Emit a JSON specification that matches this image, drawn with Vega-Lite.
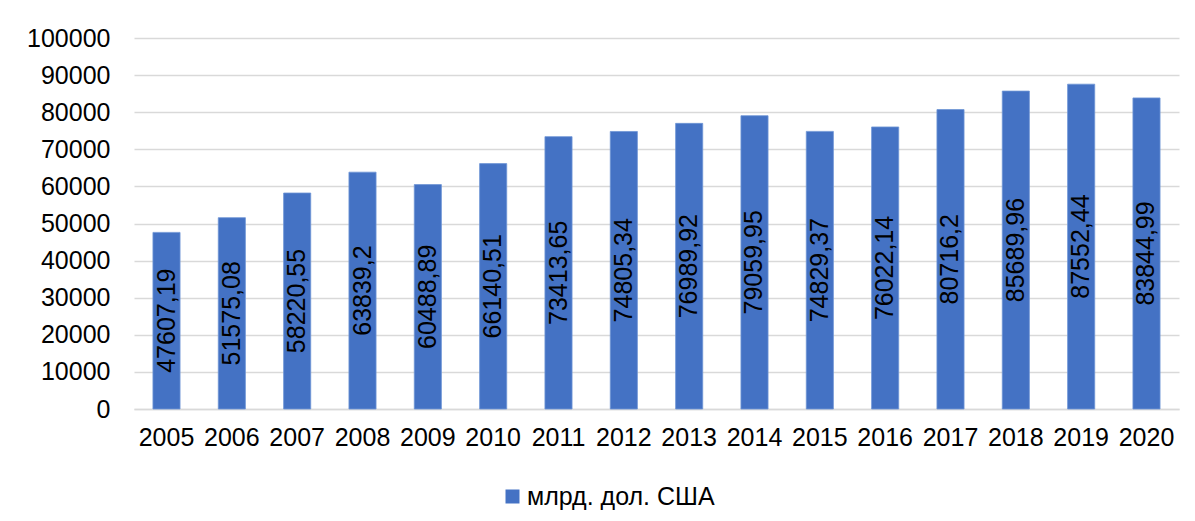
{
  "$schema": "https://vega.github.io/schema/vega-lite/v6.json",
  "width": 1045,
  "height": 371,
  "autosize": {"type": "none"},
  "padding": {"left": 134, "top": 38, "right": 16, "bottom": 112},
  "background": "white",
  "config": {
    "font": "Liberation Sans",
    "view": {"stroke": null}
  },
  "data": {
    "values": [
      {"year": "2005", "value": 47607.19, "label": "47607,19"},
      {"year": "2006", "value": 51575.08, "label": "51575,08"},
      {"year": "2007", "value": 58220.55, "label": "58220,55"},
      {"year": "2008", "value": 63839.2, "label": "63839,2"},
      {"year": "2009", "value": 60488.89, "label": "60488,89"},
      {"year": "2010", "value": 66140.51, "label": "66140,51"},
      {"year": "2011", "value": 73413.65, "label": "73413,65"},
      {"year": "2012", "value": 74805.34, "label": "74805,34"},
      {"year": "2013", "value": 76989.92, "label": "76989,92"},
      {"year": "2014", "value": 79059.95, "label": "79059,95"},
      {"year": "2015", "value": 74829.37, "label": "74829,37"},
      {"year": "2016", "value": 76022.14, "label": "76022,14"},
      {"year": "2017", "value": 80716.2, "label": "80716,2"},
      {"year": "2018", "value": 85689.96, "label": "85689,96"},
      {"year": "2019", "value": 87552.44, "label": "87552,44"},
      {"year": "2020", "value": 83844.99, "label": "83844,99"}
    ]
  },
  "encoding": {
    "x": {
      "field": "year",
      "type": "nominal",
      "sort": null,
      "scale": {"paddingInner": 0.585, "paddingOuter": 0.29},
      "axis": {
        "title": null,
        "labelAngle": 0,
        "labelFontSize": 25,
        "labelColor": "#000000",
        "labelPadding": 16,
        "ticks": false,
        "domainColor": "#d9d9d9",
        "domainWidth": 1.5,
        "grid": false
      }
    }
  },
  "layer": [
    {
      "mark": {"type": "bar", "stroke": "#6f95d6", "strokeWidth": 0.8},
      "encoding": {
        "y": {
          "field": "value",
          "type": "quantitative",
          "scale": {"domain": [0, 100000], "nice": false},
          "axis": {
            "title": null,
            "values": [0, 10000, 20000, 30000, 40000, 50000, 60000, 70000, 80000, 90000, 100000],
            "labelFontSize": 25,
            "labelColor": "#000000",
            "labelPadding": 24,
            "ticks": false,
            "domain": false,
            "gridColor": "#d9d9d9",
            "gridWidth": 1.5,
            "format": "d"
          }
        },
        "color": {
          "datum": "млрд. дол. США",
          "type": "nominal",
          "scale": {"range": ["#4472C4"]},
          "legend": {
            "title": null,
            "orient": "none",
            "legendX": 366,
            "legendY": 446,
            "symbolType": "square",
            "symbolSize": 196,
            "symbolStrokeWidth": 0,
            "labelFontSize": 25,
            "labelColor": "#000000",
            "labelOffset": 2,
            "labelLimit": 0,
            "padding": 0
          }
        }
      }
    },
    {
      "mark": {"type": "text", "angle": -90, "align": "center", "baseline": "middle", "fontSize": 25, "color": "#000000"},
      "encoding": {
        "y": {
          "field": "value",
          "type": "quantitative",
          "scale": {"domain": [0, 200000], "nice": false},
          "axis": null
        },
        "text": {"field": "label"}
      }
    }
  ],
  "resolve": {"scale": {"y": "independent"}}
}
